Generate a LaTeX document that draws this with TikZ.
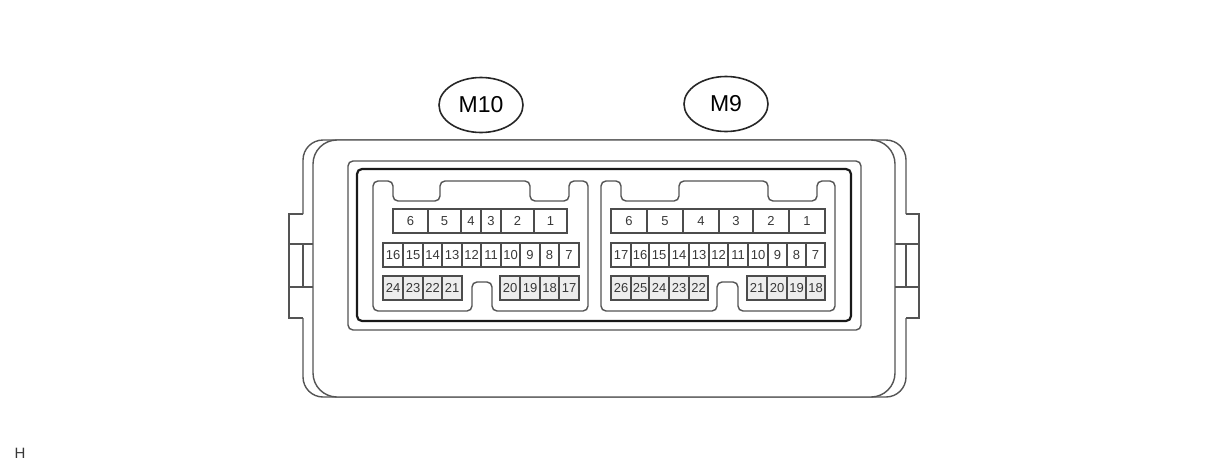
\documentclass[tikz,border=0pt]{standalone}
\usepackage{fontspec}
\setmainfont{Liberation Sans}
\usetikzlibrary{shapes.geometric}
\definecolor{partline}{gray}{0.33}
\definecolor{pinline}{gray}{0.3}
\definecolor{pintext}{gray}{0.22}
\definecolor{pinshade}{gray}{0.93}
\tikzset{
    partedge/.style={draw=partline, line width=1.4pt},
    pincell/.style={draw=pinline, line width=1.5pt, rectangle, inner sep=0pt, outer sep=0pt,
        text=pintext, font=\fontsize{13}{13}\selectfont},
    tagoval/.style={draw=black!85, line width=1.6pt, ellipse, inner sep=0pt,
        minimum width=84pt, minimum height=55pt, font=\fontsize{23}{23}\selectfont}
}
\newcommand{\pinrow}[4]{%
    \foreach \xa/\xb/\lab in {#4} {
        \node[pincell, minimum width={(\xb-\xa)*1pt}, minimum height={(#3-#2)*1pt}]
            (#1-\lab) at ({(\xa+\xb)/2}, {(#2+#3)/2}) {\lab};
    }%
}
\begin{document}
\begin{tikzpicture}[x=1pt, y=-1pt]
    \useasboundingbox (0, 0) rectangle (1208, 472);
    % housing behind
    \draw[partedge, rounded corners=20] (303, 214) -- (303, 140) -- (906, 140) -- (906, 214);
    \draw[partedge, rounded corners=20] (303, 318) -- (303, 397) -- (906, 397) -- (906, 318);
    \draw[partedge, fill=white, rounded corners=24] (313, 140) rectangle (895, 397);
    % side clips
    \draw[partedge] (303, 214) -- (289, 214) -- (289, 318) -- (303, 318);
    \draw[partedge] (906, 214) -- (919, 214) -- (919, 318) -- (906, 318);
    \draw[partedge] (289, 244) -- (313, 244);
    \draw[partedge] (289, 287) -- (313, 287);
    \draw[partedge] (303, 244) -- (303, 287);
    \draw[partedge] (895, 244) -- (919, 244);
    \draw[partedge] (895, 287) -- (919, 287);
    \draw[partedge] (906, 244) -- (906, 287);
    % opening
    \draw[partedge, rounded corners=5] (348, 161) rectangle (861, 330);
    \draw[black!90, line width=2.2pt, rounded corners=5] (357, 169) rectangle (851, 321);
    % M10 cavity
    \draw[partedge, rounded corners=5] (373, 181) -- (393, 181) -- (393, 201) -- (440, 201)
        -- (440, 181) -- (530, 181) -- (530, 201) -- (569, 201) -- (569, 181) -- (588, 181)
        -- (588, 311) -- (492, 311) -- (492, 282) -- (472, 282) -- (472, 311) -- (373, 311) -- cycle;
    % M9 cavity
    \draw[partedge, rounded corners=5] (601, 181) -- (621, 181) -- (621, 201) -- (679, 201)
        -- (679, 181) -- (768, 181) -- (768, 201) -- (817, 201) -- (817, 181) -- (835, 181)
        -- (835, 311) -- (738, 311) -- (738, 282) -- (717, 282) -- (717, 311) -- (601, 311) -- cycle;
    % M10 pins
    \pinrow{ten}{209}{233}{393/428/6, 428/461/5, 461/481/4, 481/501/3, 501/534/2, 534/567/1}
    \pinrow{ten}{243}{267}{383/403/16, 403/423/15, 423/442/14, 442/462/13, 462/481/12, 481/501/11,
        501/520/10, 520/540/9, 540/559/8, 559/579/7}
    % M9 pins
    \pinrow{nine}{209}{233}{611/647/6, 647/683/5, 683/719/4, 719/753/3, 753/789/2, 789/825/1}
    \pinrow{nine}{243}{267}{611/631/17, 631/649/16, 649/669/15, 669/689/14, 689/709/13, 709/728/12,
        728/748/11, 748/768/10, 768/787/9, 787/806/8, 806/825/7}
    % lower rows look greyer
    \begin{scope}[pincell/.append style={fill=pinshade}]
        \pinrow{ten}{276}{300}{383/403/24, 403/423/23, 423/442/22, 442/462/21,
            500/520/20, 520/540/19, 540/559/18, 559/579/17}
        \pinrow{nine}{276}{300}{611/631/26, 631/649/25, 649/669/24, 669/689/23, 689/708/22,
            747/767/21, 767/787/20, 787/806/19, 806/825/18}
    \end{scope}
    % tags
    \node[tagoval] (tagten) at (481, 105) {M10};
    \node[tagoval] (tagnine) at (726, 104) {M9};
    \node[font=\fontsize{15}{15}\selectfont, text=pintext] (cornerH) at (20, 453) {H};
\end{tikzpicture}
\end{document}
